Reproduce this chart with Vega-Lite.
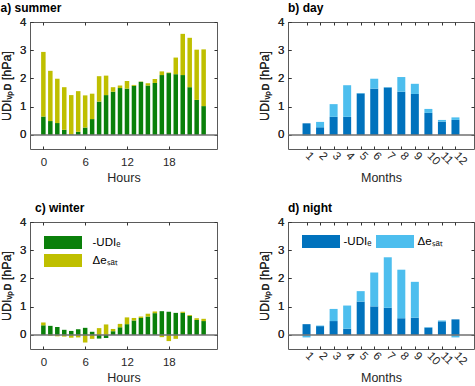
{
  "$schema": "https://vega.github.io/schema/vega-lite/v6.json",
  "padding": {"left": 0, "top": 1, "right": 0, "bottom": 0},
  "bounds": "flush",
  "spacing": {"row": 73, "column": 71},
  "columns": 2,
  "resolve": {"scale": {"color": "independent"}, "legend": {"color": "independent"}},
  "config": {
    "font": "Liberation Sans",
    "background": "white",
    "view": {"stroke": "#5a5a5a", "strokeWidth": 1},
    "axis": {
      "grid": false,
      "domain": false,
      "labelOverlap": false,
      "tickColor": "#333333",
      "tickSize": -3,
      "labelFontSize": 11.5,
      "labelColor": "#262626",
      "labelFont": "Liberation Sans",
      "titleFont": "Liberation Sans",
      "titleFontSize": 12.5,
      "titleFontWeight": "normal",
      "titleColor": "#262626"
    },
    "axisX": {"labelPadding": 10, "titlePadding": 4},
    "axisY": {"labelPadding": 7, "titlePadding": 6},
    "title": {"fontSize": 12, "fontWeight": "bold", "anchor": "start", "color": "#000000", "offset": 1, "font": "Liberation Sans"},
    "legend": {"symbolOpacity": 1}
  },
  "datasets": {
    "summer": [
      {"hour": 0, "series": "-UDIₑ", "value": 0.65}, {"hour": 0, "series": "Δeₛₐₜ", "value": 2.29},
      {"hour": 1, "series": "-UDIₑ", "value": 0.49}, {"hour": 1, "series": "Δeₛₐₜ", "value": 1.78},
      {"hour": 2, "series": "-UDIₑ", "value": 0.42}, {"hour": 2, "series": "Δeₛₐₜ", "value": 1.57},
      {"hour": 3, "series": "-UDIₑ", "value": 0.18}, {"hour": 3, "series": "Δeₛₐₜ", "value": 1.51},
      {"hour": 4, "series": "-UDIₑ", "value": 0.02}, {"hour": 4, "series": "Δeₛₐₜ", "value": 1.39},
      {"hour": 5, "series": "-UDIₑ", "value": 0.11}, {"hour": 5, "series": "Δeₛₐₜ", "value": 1.44},
      {"hour": 6, "series": "-UDIₑ", "value": 0.26}, {"hour": 6, "series": "Δeₛₐₜ", "value": 1.14},
      {"hour": 7, "series": "-UDIₑ", "value": 0.56}, {"hour": 7, "series": "Δeₛₐₜ", "value": 0.90},
      {"hour": 8, "series": "-UDIₑ", "value": 1.18}, {"hour": 8, "series": "Δeₛₐₜ", "value": 0.90},
      {"hour": 9, "series": "-UDIₑ", "value": 1.41}, {"hour": 9, "series": "Δeₛₐₜ", "value": 0.69},
      {"hour": 10, "series": "-UDIₑ", "value": 1.53}, {"hour": 10, "series": "Δeₛₐₜ", "value": 0.16},
      {"hour": 11, "series": "-UDIₑ", "value": 1.66}, {"hour": 11, "series": "Δeₛₐₜ", "value": 0.09},
      {"hour": 12, "series": "-UDIₑ", "value": 1.64}, {"hour": 12, "series": "Δeₛₐₜ", "value": 0.27},
      {"hour": 13, "series": "-UDIₑ", "value": 1.74}, {"hour": 13, "series": "Δeₛₐₜ", "value": 0.03},
      {"hour": 14, "series": "-UDIₑ", "value": 1.88}, {"hour": 14, "series": "Δeₛₐₜ", "value": 0.01},
      {"hour": 15, "series": "-UDIₑ", "value": 1.75}, {"hour": 15, "series": "Δeₛₐₜ", "value": 0.08},
      {"hour": 16, "series": "-UDIₑ", "value": 1.84}, {"hour": 16, "series": "Δeₛₐₜ", "value": 0.14},
      {"hour": 17, "series": "-UDIₑ", "value": 2.12}, {"hour": 17, "series": "Δeₛₐₜ", "value": 0.13},
      {"hour": 18, "series": "-UDIₑ", "value": 2.19}, {"hour": 18, "series": "Δeₛₐₜ", "value": 0.02},
      {"hour": 19, "series": "-UDIₑ", "value": 2.15}, {"hour": 19, "series": "Δeₛₐₜ", "value": 0.59},
      {"hour": 20, "series": "-UDIₑ", "value": 2.12}, {"hour": 20, "series": "Δeₛₐₜ", "value": 1.46},
      {"hour": 21, "series": "-UDIₑ", "value": 1.69}, {"hour": 21, "series": "Δeₛₐₜ", "value": 1.75},
      {"hour": 22, "series": "-UDIₑ", "value": 1.24}, {"hour": 22, "series": "Δeₛₐₜ", "value": 1.78},
      {"hour": 23, "series": "-UDIₑ", "value": 1.02}, {"hour": 23, "series": "Δeₛₐₜ", "value": 2.01}
    ],
    "winter": [
      {"hour": 0, "series": "-UDIₑ", "value": 0.34}, {"hour": 0, "series": "Δeₛₐₜ", "value": 0.10},
      {"hour": 1, "series": "-UDIₑ", "value": 0.32}, {"hour": 1, "series": "Δeₛₐₜ", "value": -0.03},
      {"hour": 2, "series": "-UDIₑ", "value": 0.28}, {"hour": 2, "series": "Δeₛₐₜ", "value": -0.05},
      {"hour": 3, "series": "-UDIₑ", "value": 0.18}, {"hour": 3, "series": "Δeₛₐₜ", "value": -0.06},
      {"hour": 4, "series": "-UDIₑ", "value": 0.14}, {"hour": 4, "series": "Δeₛₐₜ", "value": -0.10},
      {"hour": 5, "series": "-UDIₑ", "value": 0.20}, {"hour": 5, "series": "Δeₛₐₜ", "value": -0.09},
      {"hour": 6, "series": "-UDIₑ", "value": 0.25}, {"hour": 6, "series": "Δeₛₐₜ", "value": -0.27},
      {"hour": 7, "series": "-UDIₑ", "value": 0.11}, {"hour": 7, "series": "Δeₛₐₜ", "value": -0.14},
      {"hour": 8, "series": "-UDIₑ", "value": -0.13}, {"hour": 8, "series": "Δeₛₐₜ", "value": 0.24},
      {"hour": 9, "series": "-UDIₑ", "value": -0.11}, {"hour": 9, "series": "Δeₛₐₜ", "value": 0.37},
      {"hour": 10, "series": "-UDIₑ", "value": 0.13}, {"hour": 10, "series": "Δeₛₐₜ", "value": 0.08},
      {"hour": 11, "series": "-UDIₑ", "value": 0.27}, {"hour": 11, "series": "Δeₛₐₜ", "value": 0.12},
      {"hour": 12, "series": "-UDIₑ", "value": 0.38}, {"hour": 12, "series": "Δeₛₐₜ", "value": 0.24},
      {"hour": 13, "series": "-UDIₑ", "value": 0.51}, {"hour": 13, "series": "Δeₛₐₜ", "value": 0.09},
      {"hour": 14, "series": "-UDIₑ", "value": 0.60}, {"hour": 14, "series": "Δeₛₐₜ", "value": 0.05},
      {"hour": 15, "series": "-UDIₑ", "value": 0.65}, {"hour": 15, "series": "Δeₛₐₜ", "value": 0.10},
      {"hour": 16, "series": "-UDIₑ", "value": 0.77}, {"hour": 16, "series": "Δeₛₐₜ", "value": 0.06},
      {"hour": 17, "series": "-UDIₑ", "value": 0.84}, {"hour": 17, "series": "Δeₛₐₜ", "value": -0.08},
      {"hour": 18, "series": "-UDIₑ", "value": 0.82}, {"hour": 18, "series": "Δeₛₐₜ", "value": -0.22},
      {"hour": 19, "series": "-UDIₑ", "value": 0.78}, {"hour": 19, "series": "Δeₛₐₜ", "value": -0.14},
      {"hour": 20, "series": "-UDIₑ", "value": 0.78}, {"hour": 20, "series": "Δeₛₐₜ", "value": 0.04},
      {"hour": 21, "series": "-UDIₑ", "value": 0.67}, {"hour": 21, "series": "Δeₛₐₜ", "value": 0.03},
      {"hour": 22, "series": "-UDIₑ", "value": 0.53}, {"hour": 22, "series": "Δeₛₐₜ", "value": 0.06},
      {"hour": 23, "series": "-UDIₑ", "value": 0.49}, {"hour": 23, "series": "Δeₛₐₜ", "value": 0.08}
    ],
    "day": [
      {"month": 1, "series": "-UDIₑ", "value": 0.41}, {"month": 1, "series": "Δeₛₐₜ", "value": -0.02},
      {"month": 2, "series": "-UDIₑ", "value": 0.27}, {"month": 2, "series": "Δeₛₐₜ", "value": 0.19},
      {"month": 3, "series": "-UDIₑ", "value": 0.64}, {"month": 3, "series": "Δeₛₐₜ", "value": 0.45},
      {"month": 4, "series": "-UDIₑ", "value": 0.64}, {"month": 4, "series": "Δeₛₐₜ", "value": 1.12},
      {"month": 5, "series": "-UDIₑ", "value": 1.47}, {"month": 5, "series": "Δeₛₐₜ", "value": 0.01},
      {"month": 6, "series": "-UDIₑ", "value": 1.64}, {"month": 6, "series": "Δeₛₐₜ", "value": 0.35},
      {"month": 7, "series": "-UDIₑ", "value": 1.68}, {"month": 7, "series": "Δeₛₐₜ", "value": 0.01},
      {"month": 8, "series": "-UDIₑ", "value": 1.53}, {"month": 8, "series": "Δeₛₐₜ", "value": 0.52},
      {"month": 9, "series": "-UDIₑ", "value": 1.45}, {"month": 9, "series": "Δeₛₐₜ", "value": 0.36},
      {"month": 10, "series": "-UDIₑ", "value": 0.78}, {"month": 10, "series": "Δeₛₐₜ", "value": 0.14},
      {"month": 11, "series": "-UDIₑ", "value": 0.47}, {"month": 11, "series": "Δeₛₐₜ", "value": 0.06},
      {"month": 12, "series": "-UDIₑ", "value": 0.53}, {"month": 12, "series": "Δeₛₐₜ", "value": 0.09}
    ],
    "night": [
      {"month": 1, "series": "-UDIₑ", "value": 0.38}, {"month": 1, "series": "Δeₛₐₜ", "value": -0.09},
      {"month": 2, "series": "-UDIₑ", "value": 0.31}, {"month": 2, "series": "Δeₛₐₜ", "value": 0.02},
      {"month": 3, "series": "-UDIₑ", "value": 0.49}, {"month": 3, "series": "Δeₛₐₜ", "value": 0.43},
      {"month": 4, "series": "-UDIₑ", "value": 0.22}, {"month": 4, "series": "Δeₛₐₜ", "value": 0.82},
      {"month": 5, "series": "-UDIₑ", "value": 1.18}, {"month": 5, "series": "Δeₛₐₜ", "value": 0.37},
      {"month": 6, "series": "-UDIₑ", "value": 1.01}, {"month": 6, "series": "Δeₛₐₜ", "value": 1.20},
      {"month": 7, "series": "-UDIₑ", "value": 0.96}, {"month": 7, "series": "Δeₛₐₜ", "value": 1.79},
      {"month": 8, "series": "-UDIₑ", "value": 0.59}, {"month": 8, "series": "Δeₛₐₜ", "value": 1.72},
      {"month": 9, "series": "-UDIₑ", "value": 0.61}, {"month": 9, "series": "Δeₛₐₜ", "value": 1.27},
      {"month": 10, "series": "-UDIₑ", "value": 0.26}, {"month": 10, "series": "Δeₛₐₜ", "value": 0.01},
      {"month": 11, "series": "-UDIₑ", "value": 0.48}, {"month": 11, "series": "Δeₛₐₜ", "value": 0.03},
      {"month": 12, "series": "-UDIₑ", "value": 0.55}, {"month": 12, "series": "Δeₛₐₜ", "value": -0.09}
    ],
    "zero": [{"v": 0}]
  },
  "concat": [
    {
      "width": 187, "height": 127,
      "title": {"text": "a) summer", "frame": "bounds"},
      "layer": [
        {
          "data": {"name": "summer"},
          "mark": {"type": "bar", "size": 4.5},
          "encoding": {
            "x": {"field": "hour", "type": "quantitative", "scale": {"domain": [-1.2, 24.2], "nice": false, "zero": false}, "axis": {"orient": "bottom", "values": [0, 6, 12, 18], "title": "Hours"}},
            "y": {"field": "value", "type": "quantitative", "stack": "zero", "scale": {"domain": [-0.5, 4], "nice": false}, "axis": {"orient": "left", "values": [0, 1, 2, 3, 4], "title": "UDIᵥₚᴅ [hPa]"}},
            "color": {"field": "series", "type": "nominal", "scale": {"domain": ["-UDIₑ", "Δeₛₐₜ"], "range": ["#0a800a", "#bfbf00"]}, "legend": null},
            "order": {"field": "series", "sort": "ascending"}
          }
        },
        {
          "data": {"name": "zero"},
          "mark": {"type": "rule", "color": "#707070", "strokeWidth": 1.5},
          "encoding": {"y": {"field": "v", "type": "quantitative", "axis": {"orient": "left", "values": [0, 1, 2, 3, 4], "title": "UDIᵥₚᴅ [hPa]"}}}
        },
        {
          "data": {"name": "summer"},
          "mark": {"type": "point", "opacity": 0},
          "encoding": {
            "x": {"field": "hour", "type": "quantitative", "axis": {"orient": "top", "values": [0, 6, 12, 18], "labels": false, "title": null}},
            "y": {"field": "value", "type": "quantitative", "axis": {"orient": "right", "values": [0, 1, 2, 3, 4], "labels": false, "title": null}}
          }
        }
      ]
    },
    {
      "width": 186, "height": 127,
      "title": {"text": "b) day", "frame": "group"},
      "layer": [
        {
          "data": {"name": "day"},
          "mark": {"type": "bar", "size": 8},
          "encoding": {
            "x": {"field": "month", "type": "quantitative", "scale": {"domain": [0, 13], "nice": false, "zero": false}, "axis": {"orient": "bottom", "values": [1, 2, 3, 4, 5, 6, 7, 8, 9, 10, 11, 12], "title": "Months", "labelAngle": 45, "labelAlign": "left", "labelBaseline": "middle", "labelPadding": 8, "titlePadding": 5}},
            "y": {"field": "value", "type": "quantitative", "stack": "zero", "scale": {"domain": [-0.5, 4], "nice": false}, "axis": {"orient": "left", "values": [0, 1, 2, 3, 4], "title": "UDIᵥₚᴅ [hPa]"}},
            "color": {"field": "series", "type": "nominal", "scale": {"domain": ["-UDIₑ", "Δeₛₐₜ"], "range": ["#0072bd", "#4dbeee"]}, "legend": null},
            "order": {"field": "series", "sort": "ascending"}
          }
        },
        {
          "data": {"name": "zero"},
          "mark": {"type": "rule", "color": "#707070", "strokeWidth": 1.5},
          "encoding": {"y": {"field": "v", "type": "quantitative", "axis": {"orient": "left", "values": [0, 1, 2, 3, 4], "title": "UDIᵥₚᴅ [hPa]"}}}
        },
        {
          "data": {"name": "day"},
          "mark": {"type": "point", "opacity": 0},
          "encoding": {
            "x": {"field": "month", "type": "quantitative", "axis": {"orient": "top", "values": [1, 2, 3, 4, 5, 6, 7, 8, 9, 10, 11, 12], "labels": false, "title": null}},
            "y": {"field": "value", "type": "quantitative", "axis": {"orient": "right", "values": [0, 1, 2, 3, 4], "labels": false, "title": null}}
          }
        }
      ]
    },
    {
      "width": 187, "height": 127,
      "title": {"text": "c) winter", "frame": "group", "dx": 5},
      "layer": [
        {
          "data": {"name": "winter"},
          "mark": {"type": "bar", "size": 4.5},
          "encoding": {
            "x": {"field": "hour", "type": "quantitative", "scale": {"domain": [-1.2, 24.2], "nice": false, "zero": false}, "axis": {"orient": "bottom", "values": [0, 6, 12, 18], "title": "Hours"}},
            "y": {"field": "value", "type": "quantitative", "stack": "zero", "scale": {"domain": [-0.5, 4], "nice": false}, "axis": {"orient": "left", "values": [0, 1, 2, 3, 4], "title": "UDIᵥₚᴅ [hPa]"}},
            "color": {"field": "series", "type": "nominal", "scale": {"domain": ["-UDIₑ", "Δeₛₐₜ"], "range": ["#0a800a", "#bfbf00"]},
              "legend": {"orient": "none", "legendX": 14, "legendY": 11, "direction": "vertical", "title": null, "padding": 0, "symbolType": "M-2,-0.68H2V0.68H-2Z", "symbolSize": 361, "symbolOffset": 9.5, "symbolStrokeWidth": 0, "labelFontSize": 11.5, "labelColor": "#000000", "labelOffset": 20, "rowPadding": 2}},
            "order": {"field": "series", "sort": "ascending"}
          }
        },
        {
          "data": {"name": "zero"},
          "mark": {"type": "rule", "color": "#707070", "strokeWidth": 1.5},
          "encoding": {"y": {"field": "v", "type": "quantitative", "axis": {"orient": "left", "values": [0, 1, 2, 3, 4], "title": "UDIᵥₚᴅ [hPa]"}}}
        },
        {
          "data": {"name": "winter"},
          "mark": {"type": "point", "opacity": 0},
          "encoding": {
            "x": {"field": "hour", "type": "quantitative", "axis": {"orient": "top", "values": [0, 6, 12, 18], "labels": false, "title": null}},
            "y": {"field": "value", "type": "quantitative", "axis": {"orient": "right", "values": [0, 1, 2, 3, 4], "labels": false, "title": null}}
          }
        }
      ]
    },
    {
      "width": 186, "height": 127,
      "title": {"text": "d) night", "frame": "group"},
      "layer": [
        {
          "data": {"name": "night"},
          "mark": {"type": "bar", "size": 8},
          "encoding": {
            "x": {"field": "month", "type": "quantitative", "scale": {"domain": [0, 13], "nice": false, "zero": false}, "axis": {"orient": "bottom", "values": [1, 2, 3, 4, 5, 6, 7, 8, 9, 10, 11, 12], "title": "Months", "labelAngle": 45, "labelAlign": "left", "labelBaseline": "middle", "labelPadding": 8, "titlePadding": 5}},
            "y": {"field": "value", "type": "quantitative", "stack": "zero", "scale": {"domain": [-0.5, 4], "nice": false}, "axis": {"orient": "left", "values": [0, 1, 2, 3, 4], "title": "UDIᵥₚᴅ [hPa]"}},
            "color": {"field": "series", "type": "nominal", "scale": {"domain": ["-UDIₑ", "Δeₛₐₜ"], "range": ["#0072bd", "#4dbeee"]},
              "legend": {"orient": "none", "legendX": 14, "legendY": 10, "direction": "horizontal", "columns": 2, "title": null, "padding": 0, "symbolType": "M-2,-0.68H2V0.68H-2Z", "symbolSize": 361, "symbolOffset": 9.5, "symbolStrokeWidth": 0, "labelFontSize": 11.5, "labelColor": "#000000", "labelOffset": 13, "columnPadding": 4}},
            "order": {"field": "series", "sort": "ascending"}
          }
        },
        {
          "data": {"name": "zero"},
          "mark": {"type": "rule", "color": "#707070", "strokeWidth": 1.5},
          "encoding": {"y": {"field": "v", "type": "quantitative", "axis": {"orient": "left", "values": [0, 1, 2, 3, 4], "title": "UDIᵥₚᴅ [hPa]"}}}
        },
        {
          "data": {"name": "night"},
          "mark": {"type": "point", "opacity": 0},
          "encoding": {
            "x": {"field": "month", "type": "quantitative", "axis": {"orient": "top", "values": [1, 2, 3, 4, 5, 6, 7, 8, 9, 10, 11, 12], "labels": false, "title": null}},
            "y": {"field": "value", "type": "quantitative", "axis": {"orient": "right", "values": [0, 1, 2, 3, 4], "labels": false, "title": null}}
          }
        }
      ]
    }
  ]
}
